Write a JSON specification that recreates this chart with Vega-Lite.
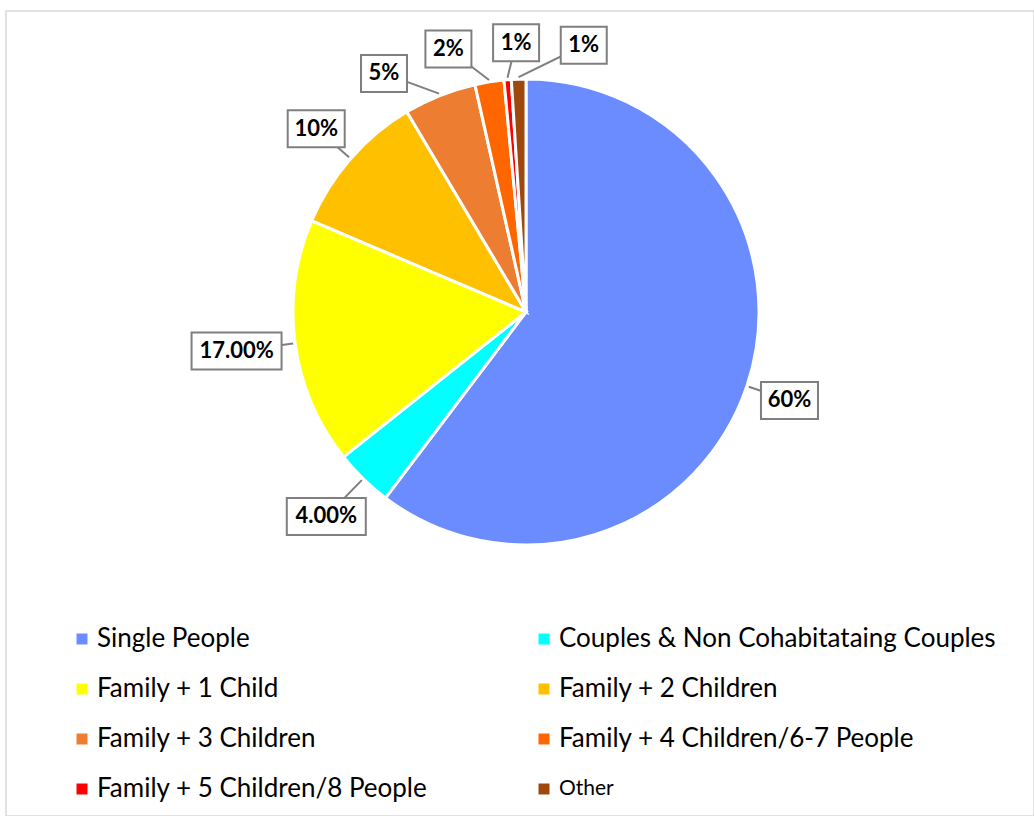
{
  "$schema": "https://vega.github.io/schema/vega-lite/v6.json",
  "width": 1028,
  "height": 805,
  "autosize": {"type": "none"},
  "padding": {"left": 6, "top": 11, "right": 0, "bottom": 0},
  "background": "white",
  "config": {
    "view": {"stroke": "#d9d9d9", "strokeWidth": 1.5},
    "font": "Lato"
  },
  "data": {
    "values": [
      {"order": 1, "category": "Single People", "value": 60, "label": "60%"},
      {"order": 2, "category": "Couples & Non Cohabitataing Couples", "value": 4, "label": "4.00%"},
      {"order": 3, "category": "Family + 1 Child", "value": 17, "label": "17.00%"},
      {"order": 4, "category": "Family + 2 Children", "value": 10, "label": "10%"},
      {"order": 5, "category": "Family + 3 Children", "value": 5, "label": "5%"},
      {"order": 6, "category": "Family + 4 Children/6-7 People", "value": 2, "label": "2%"},
      {"order": 7, "category": "Family + 5 Children/8 People", "value": 0.5, "label": "1%"},
      {"order": 8, "category": "Other", "value": 1, "label": "1%"}
    ]
  },
  "transform": [
    {"window": [{"op": "sum", "field": "value", "as": "cum"}], "sort": [{"field": "order"}], "frame": [null, 0]},
    {"joinaggregate": [{"op": "sum", "field": "value", "as": "total"}]},
    {"calculate": "(datum.cum - datum.value/2)/datum.total", "as": "frac"},
    {"calculate": "2*PI*datum.frac", "as": "a"},
    {"calculate": "datum.frac > 0.9 ? 'top' : 'rest'", "as": "grp"},
    {"joinaggregate": [{"op": "mean", "field": "a", "as": "ca"}, {"op": "count", "as": "n"}], "groupby": ["grp"]},
    {"window": [{"op": "row_number", "as": "k"}], "sort": [{"field": "order"}], "groupby": ["grp"]},
    {"calculate": "datum.grp === 'top' ? datum.ca + (datum.k - 1 - (datum.n - 1)/2)*0.25 : datum.a", "as": "la"},
    {"calculate": "12 + 5.5*length(datum.label)", "as": "hw"},
    {"calculate": "(datum.grp === 'top' ? 250 : 245) + abs(sin(datum.la))*datum.hw + abs(cos(datum.la))*18.5", "as": "rc"},
    {"calculate": "datum.rc*sin(datum.la)", "as": "lx"},
    {"calculate": "datum.rc*cos(datum.la)", "as": "ly"},
    {"calculate": "datum.lx - datum.hw", "as": "bx1"},
    {"calculate": "datum.lx + datum.hw", "as": "bx2"},
    {"calculate": "datum.ly - 18.5", "as": "by1"},
    {"calculate": "datum.ly + 18.5", "as": "by2"},
    {"calculate": "235*sin(datum.a)", "as": "ex"},
    {"calculate": "235*cos(datum.a)", "as": "ey"}
  ],
  "layer": [
    {
      "mark": {"type": "arc", "outerRadius": 233, "stroke": "white", "strokeWidth": 3},
      "encoding": {
        "x": {"datum": 0, "type": "quantitative", "scale": {"domain": [-520, 508], "nice": false, "zero": false}, "axis": null},
        "y": {"datum": 0, "type": "quantitative", "scale": {"domain": [-504, 301], "nice": false, "zero": false}, "axis": null},
        "theta": {"field": "value", "type": "quantitative", "stack": true},
        "order": {"field": "order", "type": "quantitative"},
        "color": {
          "field": "category",
          "type": "nominal",
          "scale": {
            "domain": ["Single People", "Couples & Non Cohabitataing Couples", "Family + 1 Child", "Family + 2 Children", "Family + 3 Children", "Family + 4 Children/6-7 People", "Family + 5 Children/8 People", "Other"],
            "range": ["#6A8CFF", "#00FFFF", "#FFFF00", "#FFC000", "#ED7D31", "#FF6600", "#FF0000", "#9E480E"]
          },
          "legend": {
            "orient": "none",
            "direction": "horizontal",
            "legendX": 63,
            "legendY": 615,
            "columns": 2,
            "title": null,
            "symbolType": "square",
            "symbolSize": 121,
            "symbolStrokeWidth": 0,
            "labelFont": "Lato",
            "labelFontSize": {"expr": "datum.value === 'Other' ? 21 : 26"},
            "labelColor": "black",
            "labelOffset": 2,
            "labelLimit": 600,
            "columnPadding": 103,
            "rowPadding": 24,
            "padding": 0
          }
        }
      }
    },
    {
      "mark": {"type": "rule", "stroke": "#7f7f7f", "strokeWidth": 2},
      "encoding": {
        "x": {"field": "lx", "type": "quantitative", "scale": {"domain": [-520, 508], "nice": false, "zero": false}, "axis": null},
        "y": {"field": "ly", "type": "quantitative", "scale": {"domain": [-504, 301], "nice": false, "zero": false}, "axis": null},
        "x2": {"field": "ex"},
        "y2": {"field": "ey"}
      }
    },
    {
      "mark": {"type": "rect", "fill": "white", "stroke": "#7f7f7f", "strokeWidth": 2},
      "encoding": {
        "x": {"field": "bx1", "type": "quantitative", "scale": {"domain": [-520, 508], "nice": false, "zero": false}, "axis": null},
        "x2": {"field": "bx2"},
        "y": {"field": "by1", "type": "quantitative", "scale": {"domain": [-504, 301], "nice": false, "zero": false}, "axis": null},
        "y2": {"field": "by2"}
      }
    },
    {
      "mark": {"type": "text", "font": "Lato", "fontWeight": "bold", "fontSize": 22, "color": "black", "align": "center", "baseline": "middle"},
      "encoding": {
        "x": {"field": "lx", "type": "quantitative", "scale": {"domain": [-520, 508], "nice": false, "zero": false}, "axis": null},
        "y": {"field": "ly", "type": "quantitative", "scale": {"domain": [-504, 301], "nice": false, "zero": false}, "axis": null},
        "text": {"field": "label", "type": "nominal"}
      }
    }
  ]
}
